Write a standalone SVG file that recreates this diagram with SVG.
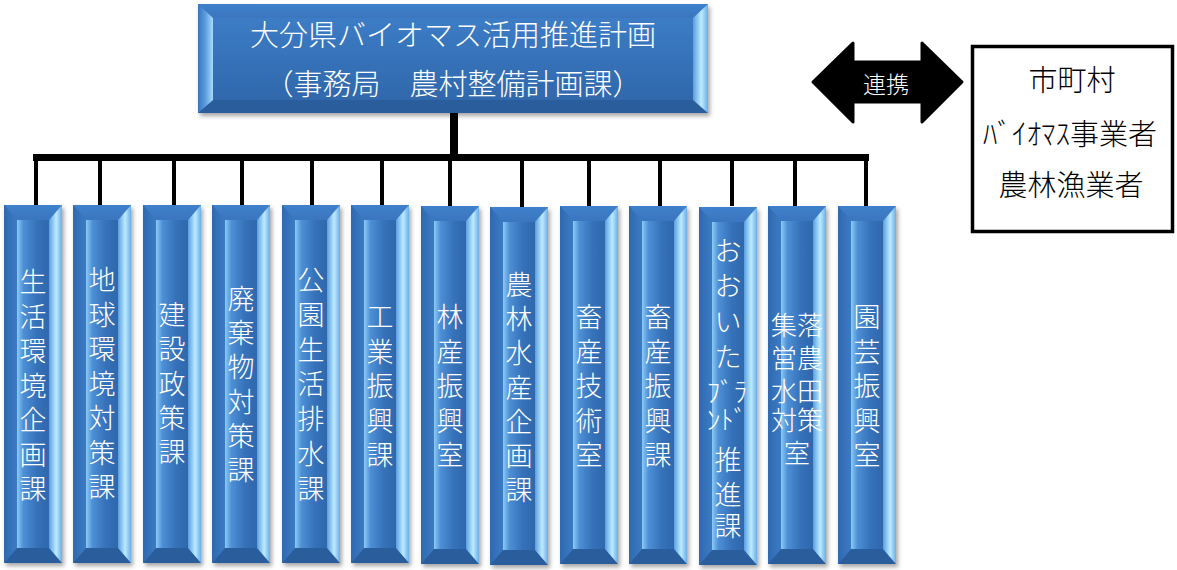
<svg xmlns="http://www.w3.org/2000/svg" xmlns:xlink="http://www.w3.org/1999/xlink" width="1177" height="570" viewBox="0 0 1177 570">
<style>
.wt{font-family:"Noto Sans CJK JP","Noto Sans CJK SC",sans-serif;font-weight:300;fill:#ffffff;text-anchor:middle;dominant-baseline:central}
.col{font-size:27px}
.bk{font-family:"Noto Sans CJK JP","Noto Sans CJK SC",sans-serif;font-weight:300;fill:#000000;text-anchor:middle;dominant-baseline:central;font-size:29px}
.bus{stroke:#000;fill:none}
</style>
<defs>
<filter id="sh" x="-10%" y="-5%" width="125%" height="115%">
<feDropShadow dx="2" dy="3" stdDeviation="2" flood-color="#000" flood-opacity="0.35"/>
</filter>
<linearGradient id="gTop" x1="0" y1="0" x2="0" y2="1"><stop offset="0" stop-color="#3f80cc"/><stop offset="1" stop-color="#3a76be"/></linearGradient>
<linearGradient id="gLeft" x1="0" y1="0" x2="1" y2="0"><stop offset="0" stop-color="#2f69b0"/><stop offset="1" stop-color="#3b7bc4"/></linearGradient>
<linearGradient id="gRight" x1="0" y1="0" x2="1" y2="0"><stop offset="0" stop-color="#5a9edf"/><stop offset="0.55" stop-color="#bdebff"/><stop offset="1" stop-color="#6aaee8"/></linearGradient>
<linearGradient id="gInner" x1="0" y1="0" x2="1" y2="0"><stop offset="0" stop-color="#8ccaf6"/><stop offset="0.2" stop-color="#4e90d6"/><stop offset="0.6" stop-color="#3672ba"/><stop offset="1" stop-color="#2f67ac"/></linearGradient>
<linearGradient id="gInnerV" x1="0" y1="0" x2="0" y2="1"><stop offset="0" stop-color="#3c7cc6"/><stop offset="1" stop-color="#3068ac"/></linearGradient>
<linearGradient id="gTopLeft" x1="0" y1="0" x2="1" y2="0"><stop offset="0" stop-color="#3a76be"/><stop offset="0.5" stop-color="#5a9ee0"/><stop offset="1" stop-color="#a8dcfc"/></linearGradient>
<g id="colbox">
<rect x="0" y="0" width="58" height="358" fill="#3470b8"/>
<polygon points="0,0 58,0 45,15 13,15" fill="url(#gTop)"/>
<polygon points="0,358 58,358 45,343 13,343" fill="#2b5d9c"/>
<polygon points="0,0 13,15 13,343 0,358" fill="url(#gLeft)"/>
<polygon points="58,0 45,15 45,343 58,358" fill="url(#gRight)"/>
<rect x="13" y="15" width="32" height="328" fill="url(#gInner)"/>
</g>
</defs>
<rect width="1177" height="570" fill="#ffffff"/>

<g id="connectors">
<rect x="450" y="112" width="8" height="46" fill="#000"/>
<line class="bus" x1="33" y1="157.5" x2="869" y2="157.5" stroke-width="7"/>
<g class="bus" stroke-width="4">
<line x1="36" y1="155" x2="36" y2="206"/>
<line x1="100" y1="157" x2="100" y2="206"/>
<line x1="174" y1="157" x2="174" y2="206"/>
<line x1="242" y1="157" x2="242" y2="206"/>
<line x1="312" y1="157" x2="312" y2="206"/>
<line x1="382" y1="157" x2="382" y2="206"/>
<line x1="450" y1="157" x2="450" y2="206"/>
<line x1="522" y1="157" x2="522" y2="208"/>
<line x1="589" y1="157" x2="589" y2="206"/>
<line x1="660" y1="157" x2="660" y2="206"/>
<line x1="732" y1="157" x2="732" y2="206"/>
<line x1="795" y1="157" x2="795" y2="206"/>
<line x1="866" y1="155" x2="866" y2="206"/>
</g>
</g>

<g id="head">
<g filter="url(#sh)">
<rect x="198" y="4" width="510" height="109" fill="#3470b8"/>
<polygon points="198,4 708,4 693,18 213,18" fill="url(#gTop)"/>
<polygon points="198,113 708,113 693,100 213,100" fill="#2b5d9c"/>
<polygon points="198,4 213,18 213,100 198,113" fill="url(#gTopLeft)"/>
<polygon points="708,4 693,18 693,100 708,113" fill="url(#gRight)"/>
<rect x="213" y="18" width="480" height="82" fill="url(#gInnerV)"/>
</g>
<text class="wt" font-size="29" x="453" y="33">大分県バイオマス活用推進計画</text>
<text class="wt" font-size="29" x="453" y="82">（事務局　農村整備計画課）</text>
</g>

<g id="renkei">
<path d="M813,82 L853,43 L853,62 L922,62 L922,43 L962,82 L922,122 L922,102 L853,102 L853,122 Z" fill="#000" stroke="#000" stroke-width="3" stroke-linejoin="round"/>
<text class="wt" font-size="23" x="886" y="83">連携</text>
</g>

<g id="partners">
<rect x="972.5" y="46.5" width="200" height="185" fill="#fff" stroke="#000" stroke-width="3.5"/>
<text class="bk" font-size="30" x="1072" y="78">市町村</text>
<text class="bk" font-size="30" x="1070" y="132">ﾊﾞｲｵﾏｽ事業者</text>
<text class="bk" font-size="30" x="1071" y="183">農林漁業者</text>
</g>

<g id="c1"><use xlink:href="#colbox" x="4" y="205" filter="url(#sh)"/>
<text class="wt col"><tspan x="33" y="280">生</tspan><tspan x="33" y="314.5">活</tspan><tspan x="33" y="349">環</tspan><tspan x="33" y="383.5">境</tspan><tspan x="33" y="418">企</tspan><tspan x="33" y="452.5">画</tspan><tspan x="33" y="487">課</tspan></text></g>

<g id="c2"><use xlink:href="#colbox" x="73" y="205" filter="url(#sh)"/>
<text class="wt col"><tspan x="102" y="278">地</tspan><tspan x="102" y="312.5">球</tspan><tspan x="102" y="347">環</tspan><tspan x="102" y="381.5">境</tspan><tspan x="102" y="416">対</tspan><tspan x="102" y="450.5">策</tspan><tspan x="102" y="485">課</tspan></text></g>

<g id="c3"><use xlink:href="#colbox" x="143" y="205" filter="url(#sh)"/>
<text class="wt col"><tspan x="172" y="313">建</tspan><tspan x="172" y="347.3">設</tspan><tspan x="172" y="381.6">政</tspan><tspan x="172" y="416">策</tspan><tspan x="172" y="450">課</tspan></text></g>

<g id="c4"><use xlink:href="#colbox" x="212" y="205" filter="url(#sh)"/>
<text class="wt col"><tspan x="241" y="297">廃</tspan><tspan x="241" y="331.2">棄</tspan><tspan x="241" y="365.4">物</tspan><tspan x="241" y="399.6">対</tspan><tspan x="241" y="433.8">策</tspan><tspan x="241" y="468">課</tspan></text></g>

<g id="c5"><use xlink:href="#colbox" x="282" y="205" filter="url(#sh)"/>
<text class="wt col"><tspan x="311" y="278">公</tspan><tspan x="311" y="312.8">園</tspan><tspan x="311" y="347.6">生</tspan><tspan x="311" y="382.4">活</tspan><tspan x="311" y="417.2">排</tspan><tspan x="311" y="452">水</tspan><tspan x="311" y="486.8">課</tspan></text></g>

<g id="c6"><use xlink:href="#colbox" x="351" y="205" filter="url(#sh)"/>
<text class="wt col"><tspan x="380" y="315">工</tspan><tspan x="380" y="349.5">業</tspan><tspan x="380" y="384">振</tspan><tspan x="380" y="418.5">興</tspan><tspan x="380" y="453">課</tspan></text></g>

<g id="c7"><use xlink:href="#colbox" x="421" y="206" filter="url(#sh)"/>
<text class="wt col"><tspan x="450" y="315">林</tspan><tspan x="450" y="349.5">産</tspan><tspan x="450" y="384">振</tspan><tspan x="450" y="418.5">興</tspan><tspan x="450" y="453">室</tspan></text></g>

<g id="c8"><use xlink:href="#colbox" x="490" y="207" filter="url(#sh)"/>
<text class="wt col"><tspan x="519" y="283">農</tspan><tspan x="519" y="317.2">林</tspan><tspan x="519" y="351.4">水</tspan><tspan x="519" y="385.6">産</tspan><tspan x="519" y="419.8">企</tspan><tspan x="519" y="454">画</tspan><tspan x="519" y="488.2">課</tspan></text></g>

<g id="c9"><use xlink:href="#colbox" x="560" y="206" filter="url(#sh)"/>
<text class="wt col"><tspan x="589" y="315">畜</tspan><tspan x="589" y="349.5">産</tspan><tspan x="589" y="384">技</tspan><tspan x="589" y="418.5">術</tspan><tspan x="589" y="453">室</tspan></text></g>

<g id="c10"><use xlink:href="#colbox" x="629" y="206" filter="url(#sh)"/>
<text class="wt col"><tspan x="658" y="315">畜</tspan><tspan x="658" y="349.5">産</tspan><tspan x="658" y="384">振</tspan><tspan x="658" y="418.5">興</tspan><tspan x="658" y="453">課</tspan></text></g>

<g id="c11"><use xlink:href="#colbox" x="699" y="207" filter="url(#sh)"/>
<text class="wt col"><tspan x="728" y="249">お</tspan><tspan x="728" y="284">お</tspan><tspan x="728" y="320">い</tspan><tspan x="728" y="355">た</tspan><tspan x="727" y="390">ﾌﾞﾗ</tspan><tspan x="727" y="418">ﾝﾄﾞ</tspan><tspan x="728" y="458">推</tspan><tspan x="728" y="493">進</tspan><tspan x="728" y="524">課</tspan></text></g>

<g id="c12"><use xlink:href="#colbox" x="768" y="206" filter="url(#sh)"/>
<text class="wt" font-size="26"><tspan x="797" y="323">集落</tspan><tspan x="797" y="356">営農</tspan><tspan x="797" y="389">水田</tspan><tspan x="797" y="418">対策</tspan><tspan x="797" y="451">室</tspan></text></g>

<g id="c13"><use xlink:href="#colbox" x="838" y="206" filter="url(#sh)"/>
<text class="wt col"><tspan x="867" y="315">園</tspan><tspan x="867" y="349.5">芸</tspan><tspan x="867" y="384">振</tspan><tspan x="867" y="418.5">興</tspan><tspan x="867" y="453">室</tspan></text></g>
</svg>
